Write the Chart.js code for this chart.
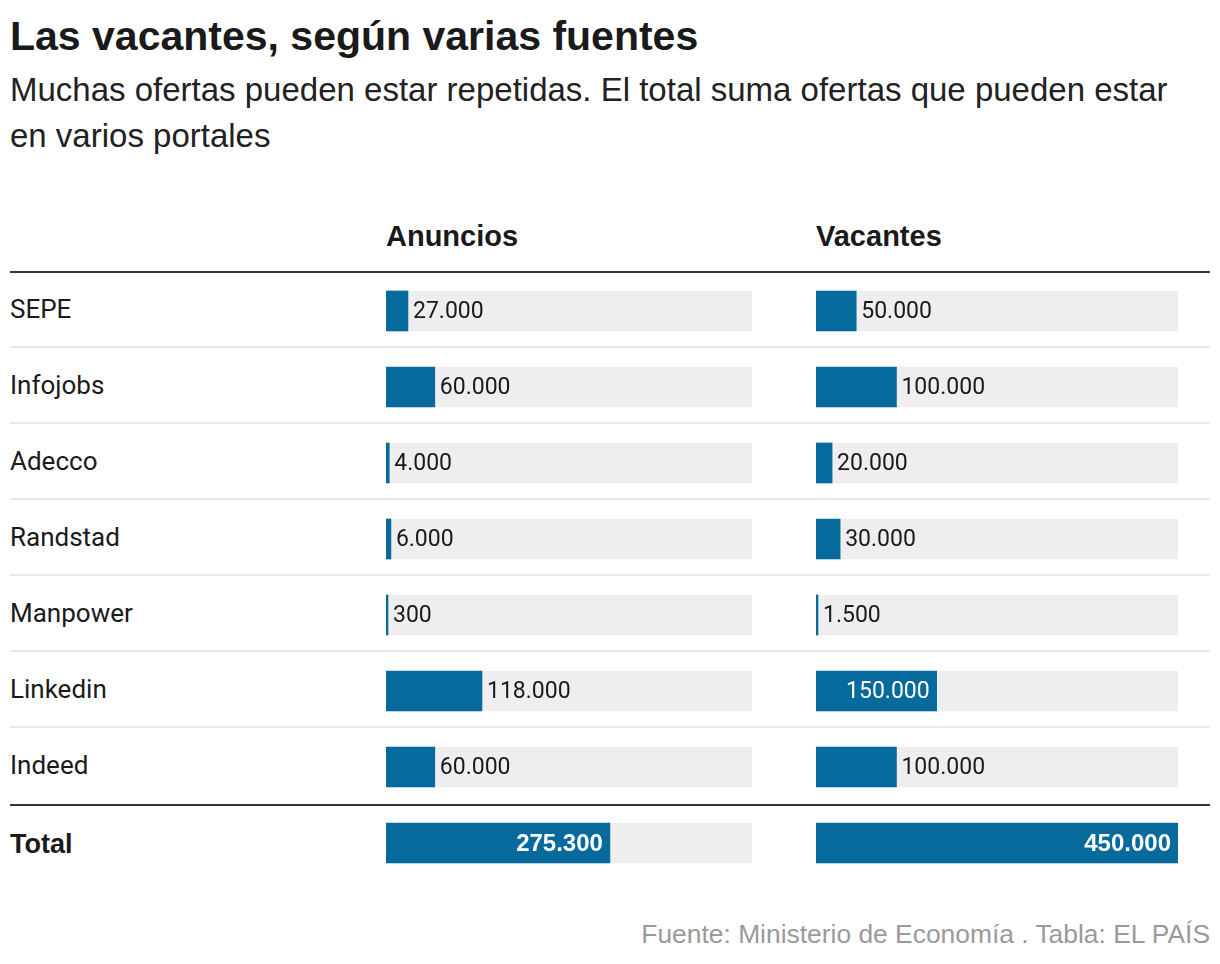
<!DOCTYPE html>
<html lang="es">
<head>
<meta charset="utf-8">
<script src="https://cdn.jsdelivr.net/npm/chart.js@4"></script>
<style>
    body { margin: 0; background: #fff; width: 1220px; height: 964px; position: relative; overflow: hidden; color: #1a1a1a; }
    .abs { position: absolute; }
    h1 { position: absolute; left: 10px; top: 13px; margin: 0; font: bold 41px "Liberation Sans", sans-serif; }
    .sub { left: 10px; top: 67px; width: 1190px; font: 33px/46px "Liberation Sans", sans-serif; color: #222; }
    .head { top: 220px; font: bold 29px "Liberation Sans", sans-serif; }
    .rule { left: 10px; width: 1200px; }
    .row { left: 10px; height: 76px; font: 26px/72px Roboto, sans-serif; }
    .src { right: 10px; top: 919px; font: 26.4px "Liberation Sans", sans-serif; color: #9a9a9a; }
</style>
</head>
<body>
<h1>Las vacantes, según varias fuentes</h1>
<div class="abs sub">Muchas ofertas pueden estar repetidas. El total suma ofertas que pueden estar en varios portales</div>
<div class="abs head" style="left:386px">Anuncios</div>
<div class="abs head" style="left:816px">Vacantes</div>
<div id="rows"></div>
<div class="abs" style="left:386px; top:273px; width:366px; height:608px"><canvas id="chartA"></canvas></div>
<div class="abs" style="left:816px; top:273px; width:362px; height:608px"><canvas id="chartB"></canvas></div>
<div class="abs src">Fuente: Ministerio de Economía . Tabla: EL PAÍS</div>

<script>
// Data
const portales = ['SEPE', 'Infojobs', 'Adecco', 'Randstad', 'Manpower', 'Linkedin', 'Indeed', 'Total'];
const anuncios = [27000, 60000, 4000, 6000, 300, 118000, 60000, 275300];
const vacantes = [50000, 100000, 20000, 30000, 1500, 150000, 100000, 450000];
const escalaMax = 450000;

const azul = '#066a9c';
const gris = '#eeeeee';

// Format number with dot thousands separator
function formatNum(n) {
    return n.toString().replace(/\B(?=(\d{3})+(?!\d))/g, '.');
}

// Row labels and separator lines
const rowsEl = document.getElementById('rows');
portales.forEach((p, i) => {
    const lab = document.createElement('div');
    lab.className = 'abs row';
    lab.style.top = (273 + i * 76) + 'px';
    lab.textContent = p;
    if (p === 'Total') {
        lab.style.font = 'bold 27px/72px "Liberation Sans", sans-serif';
        lab.style.top = (276 + i * 76) + 'px';
    }
    rowsEl.appendChild(lab);
    if (i > 0) {
        const line = document.createElement('div');
        line.className = 'abs rule';
        const dark = i === portales.length - 1;
        line.style.top = (272 + i * 76 - (dark ? 0 : 2)) + 'px';
        line.style.height = '2px';
        line.style.background = dark ? '#333' : '#e9e9e9';
        rowsEl.appendChild(line);
    }
});
const topLine = document.createElement('div');
topLine.className = 'abs rule';
topLine.style.top = '271px';
topLine.style.height = '2px';
topLine.style.background = '#333';
rowsEl.appendChild(topLine);

// Value labels drawn next to / inside the bars
const valueLabels = {
    id: 'valueLabels',
    afterDatasetsDraw(chart) {
        const ctx = chart.ctx;
        const meta = chart.getDatasetMeta(1);
        const values = chart.data.datasets[1].data;
        meta.data.forEach((bar, i) => {
            const isTotal = i === values.length - 1;
            const text = formatNum(values[i]);
            ctx.save();
            ctx.font = (isTotal ? 'bold 24px "Liberation Sans"' : '23px Roboto');
            ctx.textBaseline = 'middle';
            const w = ctx.measureText(text).width;
            const barW = bar.x - bar.base;
            if (w + 20 < barW) {
                ctx.fillStyle = '#fff';
                ctx.textAlign = 'right';
                ctx.fillText(text, bar.x - 7, bar.y + 1);
            } else {
                ctx.fillStyle = '#1a1a1a';
                ctx.textAlign = 'left';
                ctx.fillText(text, Math.max(bar.x, bar.base + 2) + 5, bar.y + 1);
            }
            ctx.restore();
        });
    }
};

function makeChart(id, values) {
    return new Chart(document.getElementById(id), {
        type: 'bar',
        data: {
            labels: portales,
            datasets: [
                {
                    data: portales.map(() => escalaMax),
                    backgroundColor: gris,
                    order: 2,
                    grouped: false
                },
                {
                    data: values,
                    backgroundColor: azul,
                    order: 1,
                    grouped: false,
                    minBarLength: 2
                }
            ]
        },
        options: {
            indexAxis: 'y',
            responsive: true,
            maintainAspectRatio: false,
            animation: false,
            barThickness: 40,
            layout: { padding: 0 },
            scales: {
                x: { display: false, min: 0, max: escalaMax },
                y: { display: false }
            },
            plugins: {
                legend: { display: false },
                tooltip: { enabled: false }
            }
        },
        plugins: [valueLabels]
    });
}

makeChart('chartA', anuncios);
makeChart('chartB', vacantes);
</script>
</body>
</html>
